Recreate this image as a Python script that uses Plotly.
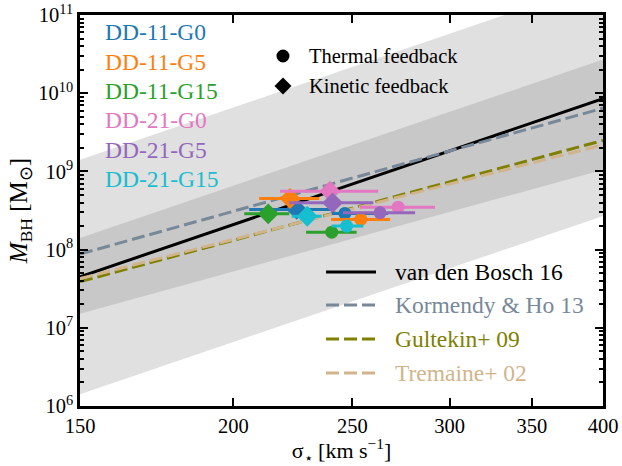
import plotly.graph_objects as go

# ---------------- data ----------------
sims = ["DD-11-G0", "DD-11-G5", "DD-11-G15", "DD-21-G0", "DD-21-G5", "DD-21-G15"]
colors = ["#1f77b4", "#ff7f0e", "#2ca02c", "#e377c2", "#9467bd", "#17becf"]

# kinetic feedback (diamonds)
kin_sigma = [225.2, 222.4, 213.5, 239.7, 240.9, 229.7]
kin_sigma_lo = [206.0, 209.9, 204.1, 218.3, 222.1, 223.1]
kin_sigma_hi = [240.5, 234.9, 222.1, 262.4, 260.0, 236.0]
kin_mbh = [3.26e8, 4.50e8, 2.87e8, 5.57e8, 3.96e8, 2.67e8]

# thermal feedback (circles)
th_sigma = [246.5, 254.0, 240.5, 272.4, 263.3, 247.3]
th_sigma_lo = [240.5, 240.2, 229.2, 253.6, 245.6, 240.5]
th_sigma_hi = [267.4, 268.3, 252.0, 291.9, 281.2, 255.2]
th_mbh = [2.90e8, 2.43e8, 1.67e8, 3.49e8, 2.96e8, 2.00e8]

# scaling relations (values at sigma = 150 and 400 km/s)
rel_sigma = [150, 400]
rel_names = ["van den Bosch 16", "Kormendy & Ho 13", "Gultekin+ 09", "Tremaine+ 02"]
rel_colors = ["black", "#778899", "#808000", "#d2b48c"]
rel_dash = ["solid", "13px,5px", "13px,5px", "13px,5px"]
rel_mbh = [
    [4.49e7, 8.51e9],
    [8.77e7, 6.43e9],
    [3.89e7, 2.49e9],
    [4.25e7, 2.19e9],
]

# scatter bands
band_sigma = [150, 400]
light_lo = [1.41e6, 2.69e8]
light_hi = [1.41e9, 2.69e11]
dark_lo = [1.51e7, 1.05e9]
dark_hi = [1.41e8, 2.69e10]

x_ticks = [150, 200, 250, 300, 350, 400]
y_ticks = [1e6, 1e7, 1e8, 1e9, 1e10, 1e11]
y_tick_text = ["10<sup>6</sup>", "10<sup>7</sup>", "10<sup>8</sup>", "10<sup>9</sup>",
               "10<sup>10</sup>", "10<sup>11</sup>"]
y_minor = [m * 10 ** e for e in range(6, 11) for m in range(2, 10)]

FONT = "Liberation Serif"

fig = go.Figure()

# bands
for lo, hi, col in [(light_lo, light_hi, "rgb(224,224,224)"), (dark_lo, dark_hi, "rgb(200,200,200)")]:
    fig.add_trace(go.Scatter(x=band_sigma, y=lo, mode="lines", line=dict(width=0),
                             showlegend=False, hoverinfo="skip"))
    fig.add_trace(go.Scatter(x=band_sigma, y=hi, mode="lines", line=dict(width=0),
                             fill="tonexty", fillcolor=col, showlegend=False, hoverinfo="skip"))

# relations
for name, col, dash, yv in zip(rel_names, rel_colors, rel_dash, rel_mbh):
    fig.add_trace(go.Scatter(x=rel_sigma, y=yv, mode="lines", name=name,
                             line=dict(color=col, width=3, dash=dash), showlegend=False))

# simulations
for i, c in enumerate(colors):
    fig.add_trace(go.Scatter(
        x=[kin_sigma[i]], y=[kin_mbh[i]], mode="markers",
        marker=dict(symbol="diamond", size=16, color=c),
        error_x=dict(type="data", symmetric=False,
                     array=[kin_sigma_hi[i] - kin_sigma[i]],
                     arrayminus=[kin_sigma[i] - kin_sigma_lo[i]],
                     thickness=3, width=0, color=c),
        showlegend=False))
for i, c in enumerate(colors):
    fig.add_trace(go.Scatter(
        x=[th_sigma[i]], y=[th_mbh[i]], mode="markers",
        marker=dict(symbol="circle", size=13, color=c),
        error_x=dict(type="data", symmetric=False,
                     array=[th_sigma_hi[i] - th_sigma[i]],
                     arrayminus=[th_sigma[i] - th_sigma_lo[i]],
                     thickness=3, width=0, color=c),
        showlegend=False))

annotations = []
shapes = []

# simulation legend (colored text)
dd_y = [0.9565, 0.8798, 0.8056, 0.7315, 0.6547, 0.5806]
for name, c, yy in zip(sims, colors, dd_y):
    annotations.append(dict(x=0.044, y=yy, xref="paper", yref="paper", text=name,
                            showarrow=False, xanchor="left", yanchor="middle",
                            font=dict(family=FONT, size=23.5, color=c)))

# marker legend
annotations.append(dict(x=0.434, y=0.8951, xref="paper", yref="paper", text="Thermal feedback",
                        showarrow=False, xanchor="left", yanchor="middle",
                        font=dict(family=FONT, size=20.5, color="black")))
annotations.append(dict(x=0.434, y=0.8184, xref="paper", yref="paper", text="Kinetic feedback",
                        showarrow=False, xanchor="left", yanchor="middle",
                        font=dict(family=FONT, size=20.5, color="black")))
shapes.append(dict(type="circle", xref="paper", yref="paper", xsizemode="pixel", ysizemode="pixel",
                   xanchor=0.3881, yanchor=0.8951, x0=-6.5, x1=6.5, y0=-6.5, y1=6.5,
                   fillcolor="black", line=dict(width=0)))
shapes.append(dict(type="path", xref="paper", yref="paper", xsizemode="pixel", ysizemode="pixel",
                   xanchor=0.3881, yanchor=0.8184, path="M 0 8.5 L 8.5 0 L 0 -8.5 L -8.5 0 Z",
                   fillcolor="black", line=dict(width=0)))

# relation legend
rel_leg_y = [0.3427, 0.2583, 0.1714, 0.0844]
for name, col, dash, yy in zip(rel_names, rel_colors, rel_dash, rel_leg_y):
    shapes.append(dict(type="line", xref="paper", yref="paper", x0=0.4704, x1=0.566, y0=yy, y1=yy,
                       line=dict(color=col, width=3, dash=dash)))
    annotations.append(dict(x=0.5985, y=yy, xref="paper", yref="paper", text=name,
                            showarrow=False, xanchor="left", yanchor="middle",
                            font=dict(family=FONT, size=23.5, color=col)))

fig.update_layout(
    width=622, height=466,
    margin=dict(l=80, r=19, t=15, b=60, autoexpand=False),
    plot_bgcolor="white", paper_bgcolor="white",
    font=dict(family=FONT, size=20, color="black"),
    annotations=annotations, shapes=shapes,
    showlegend=False,
)
fig.update_xaxes(
    type="log", range=[2.176091, 2.60206], automargin=False,
    tickvals=x_ticks, ticktext=[str(v) for v in x_ticks],
    ticks="inside", ticklen=8, tickwidth=2, tickcolor="black",
    showline=True, linewidth=2.5, linecolor="black", mirror="allticks",
    showgrid=False, zeroline=False,
    tickfont=dict(family=FONT, size=20.5),
    title=dict(text="σ<sub>⋆</sub> [km s<sup>−1</sup>]", font=dict(family=FONT, size=22), standoff=4),
)
fig.update_yaxes(
    type="log", range=[6, 11], automargin=False,
    tickvals=y_ticks, ticktext=y_tick_text,
    ticks="inside", ticklen=8, tickwidth=2, tickcolor="black",
    minor=dict(tickvals=y_minor, ticks="inside", ticklen=4, tickwidth=1.5, tickcolor="black"),
    showline=True, linewidth=2.5, linecolor="black", mirror="allticks",
    showgrid=False, zeroline=False,
    tickfont=dict(family=FONT, size=20.5),
    title=dict(text="<i>M</i><sub>BH</sub> [M<sub>⊙</sub>]", font=dict(family=FONT, size=25), standoff=4),
)

# remove the browser's default 8px body margin so the figure sits at the page corner
fig.write_html("out.html", config={"displayModeBar": False},
               post_script="document.body.style.margin='0';")
